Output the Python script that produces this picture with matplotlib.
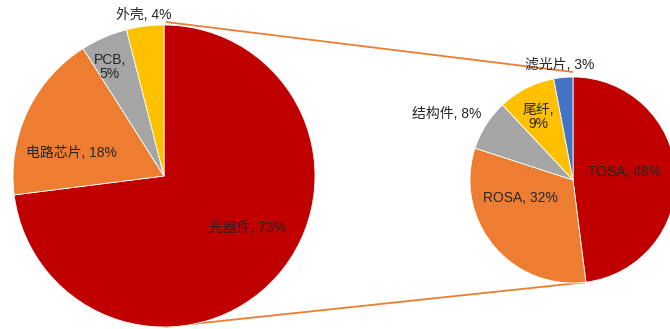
import numpy as np
import matplotlib
matplotlib.use('Agg')
import matplotlib.pyplot as plt

plt.rcParams['font.family'] = ['Liberation Sans', 'Noto Sans CJK SC', 'DejaVu Sans']

# module cost breakdown
main_labels = ['光器件', '电路芯片', 'PCB', '外壳']
main_values = [73, 18, 5, 4]
main_colors = ['#C00000', '#ED7D31', '#A5A5A5', '#FFC000']

# breakdown of the optical component share
sub_labels = ['TOSA', 'ROSA', '结构件', '尾纤', '滤光片']
sub_values = [48, 32, 8, 9, 3]
sub_colors = ['#C00000', '#ED7D31', '#A5A5A5', '#FFC000', '#4472C4']

W, H = 670, 329
fig = plt.figure(figsize=(W / 100, H / 100), dpi=100)
ax = fig.add_axes([0, 0, 1, 1])
ax.set_xlim(0, W)
ax.set_ylim(0, H)
ax.set_aspect('equal')
ax.axis('off')

# pie geometry in pixel space (y measured upward)
c1, r1 = (164, H - 176), 151
c2, r2 = (573, H - 180), 103

wedge_kw = dict(edgecolor='white', linewidth=0.6)
ax.pie(main_values, colors=main_colors, startangle=90, counterclock=False,
       center=c1, radius=r1, wedgeprops=wedge_kw, frame=True)
ax.pie(sub_values, colors=sub_colors, startangle=90, counterclock=False,
       center=c2, radius=r2, wedgeprops=wedge_kw, frame=True)
ax.set_xlim(0, W)
ax.set_ylim(0, H)
ax.axis('off')

# connector lines: top of both pies, and bottom of left pie to TOSA/ROSA edge
ang = np.deg2rad(90 - 360 * sub_values[0] / sum(sub_values))
line_kw = dict(color='#ED7D31', lw=1.3, zorder=0, solid_capstyle='butt')
ax.plot([c1[0] + 2, c2[0]], [c1[1] + r1 + 3, c2[1] + r2 + 5], **line_kw)
ax.plot([c1[0], c2[0] + r2 * np.cos(ang)], [c1[1] - r1, c2[1] + r2 * np.sin(ang)], **line_kw)

# label text and positions (pixels from top-left)
main_text = ['光器件, 73%', '电路芯片, 18%', 'PCB,\n5%', '外壳, 4%']
main_pos = [(248, 228), (71, 153), (110, 67), (144, 15)]
sub_text = ['TOSA, 48%', 'ROSA, 32%', '结构件, 8%', '尾纤,\n9%', '滤光片, 3%']
sub_pos = [(625, 172), (520, 198), (447, 114), (538, 117), (560, 65)]

for txt, (x, y) in zip(main_text + sub_text, main_pos + sub_pos):
    ax.text(x, H - y, txt, ha='center', va='center', fontsize=10,
            color='#262626', linespacing=1.0)

fig.savefig('out.png', dpi=100)
